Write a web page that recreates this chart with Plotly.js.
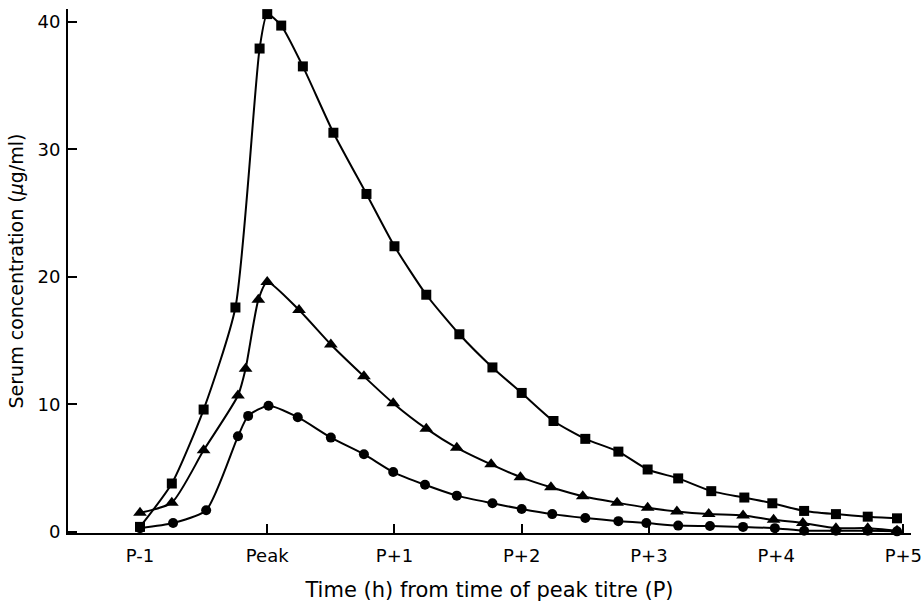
<!DOCTYPE html>
<html>
<head>
<meta charset="utf-8">
<script src="https://cdn.plot.ly/plotly-3.0.1.min.js"></script>
<style>html,body{margin:0;padding:0;background:#fff;}#chart{width:924px;height:602px;}</style>
</head>
<body>
<div id="chart"></div>
<script>
// Time (h) relative to peak titre
const squareTime = [-1, -0.75, -0.5, -0.25, -0.06, 0, 0.11, 0.28, 0.52, 0.78, 1.0, 1.25, 1.51, 1.77, 2.0, 2.25, 2.5, 2.76, 2.99, 3.23, 3.49, 3.75, 3.97, 4.22, 4.47, 4.72, 4.95];
const squareConc = [0.4, 3.8, 9.6, 17.6, 37.9, 40.6, 39.7, 36.5, 31.3, 26.5, 22.4, 18.6, 15.5, 12.9, 10.9, 8.7, 7.3, 6.3, 4.9, 4.2, 3.2, 2.7, 2.25, 1.65, 1.4, 1.2, 1.07];

const triangleTime = [-1, -0.75, -0.5, -0.23, -0.17, -0.07, 0, 0.25, 0.5, 0.76, 0.99, 1.25, 1.49, 1.76, 1.99, 2.23, 2.48, 2.75, 2.99, 3.22, 3.47, 3.74, 3.98, 4.21, 4.47, 4.72, 4.95];
const triangleConc = [1.5, 2.3, 6.4, 10.7, 12.8, 18.2, 19.6, 17.4, 14.7, 12.2, 10.1, 8.1, 6.6, 5.3, 4.3, 3.5, 2.8, 2.3, 1.9, 1.6, 1.4, 1.3, 0.95, 0.7, 0.3, 0.3, 0.1];

const circleTime = [-1, -0.74, -0.48, -0.23, -0.15, 0.01, 0.24, 0.5, 0.76, 0.99, 1.24, 1.49, 1.77, 2.0, 2.24, 2.5, 2.76, 2.98, 3.23, 3.48, 3.74, 3.99, 4.22, 4.47, 4.72, 4.95];
const circleConc = [0.3, 0.7, 1.7, 7.5, 9.1, 9.9, 9.0, 7.4, 6.1, 4.7, 3.7, 2.85, 2.25, 1.8, 1.4, 1.1, 0.85, 0.7, 0.5, 0.47, 0.4, 0.3, 0.1, 0.1, 0.1, 0.05];

const xTickVals = [-1, 0, 1, 2, 3, 4, 5];
const xTickText = ['P-1', 'Peak', 'P+1', 'P+2', 'P+3', 'P+4', 'P+5'];
const yTickVals = [0, 10, 20, 30, 40];

const FONT = '"DejaVu Sans", "Open Sans", sans-serif';

function series(x, y, symbol, size) {
  return {
    x: x, y: y, type: 'scatter', mode: 'lines+markers',
    line: {color: '#000', width: 2, shape: 'spline', smoothing: 0.6},
    marker: {color: '#000', symbol: symbol, size: size},
    cliponaxis: false, showlegend: false, hoverinfo: 'skip'
  };
}

const data = [
  series(squareTime, squareConc, 'square', 10),
  series(triangleTime, triangleConc, 'triangle-up', 12),
  series(circleTime, circleConc, 'circle', 10)
];

const layout = {
  width: 924, height: 602,
  margin: {l: 68, r: 13, t: 9, b: 69},
  paper_bgcolor: '#fff', plot_bgcolor: '#fff',
  font: {family: FONT, color: '#000', size: 18},
  xaxis: {
    range: [-1.566, 5.06],
    tickvals: xTickVals, ticktext: xTickText,
    ticks: 'inside', ticklen: 9, tickwidth: 2, tickcolor: '#000',
    showline: true, linecolor: '#000', linewidth: 2,
    showgrid: false, zeroline: false,
    ticklabelstandoff: 5,
    tickfont: {family: FONT, size: 18, color: '#000'},
    title: {text: 'Time (h) from time of peak titre (P)', font: {family: FONT, size: 21, color: '#000'}, standoff: 19}
  },
  yaxis: {
    range: [-0.08, 41.0],
    tickvals: yTickVals,
    ticks: 'inside', ticklen: 9, tickwidth: 2, tickcolor: '#000',
    showline: true, linecolor: '#000', linewidth: 2,
    showgrid: false, zeroline: false,
    ticklabelstandoff: 2,
    tickfont: {family: FONT, size: 18, color: '#000'},
    title: {text: 'Serum concentration (<i>μ</i>g/ml)', font: {family: FONT, size: 19, color: '#000'}, standoff: 9}
  }
};

Plotly.newPlot('chart', data, layout, {displayModeBar: false, staticPlot: true});
</script>
</body>
</html>
